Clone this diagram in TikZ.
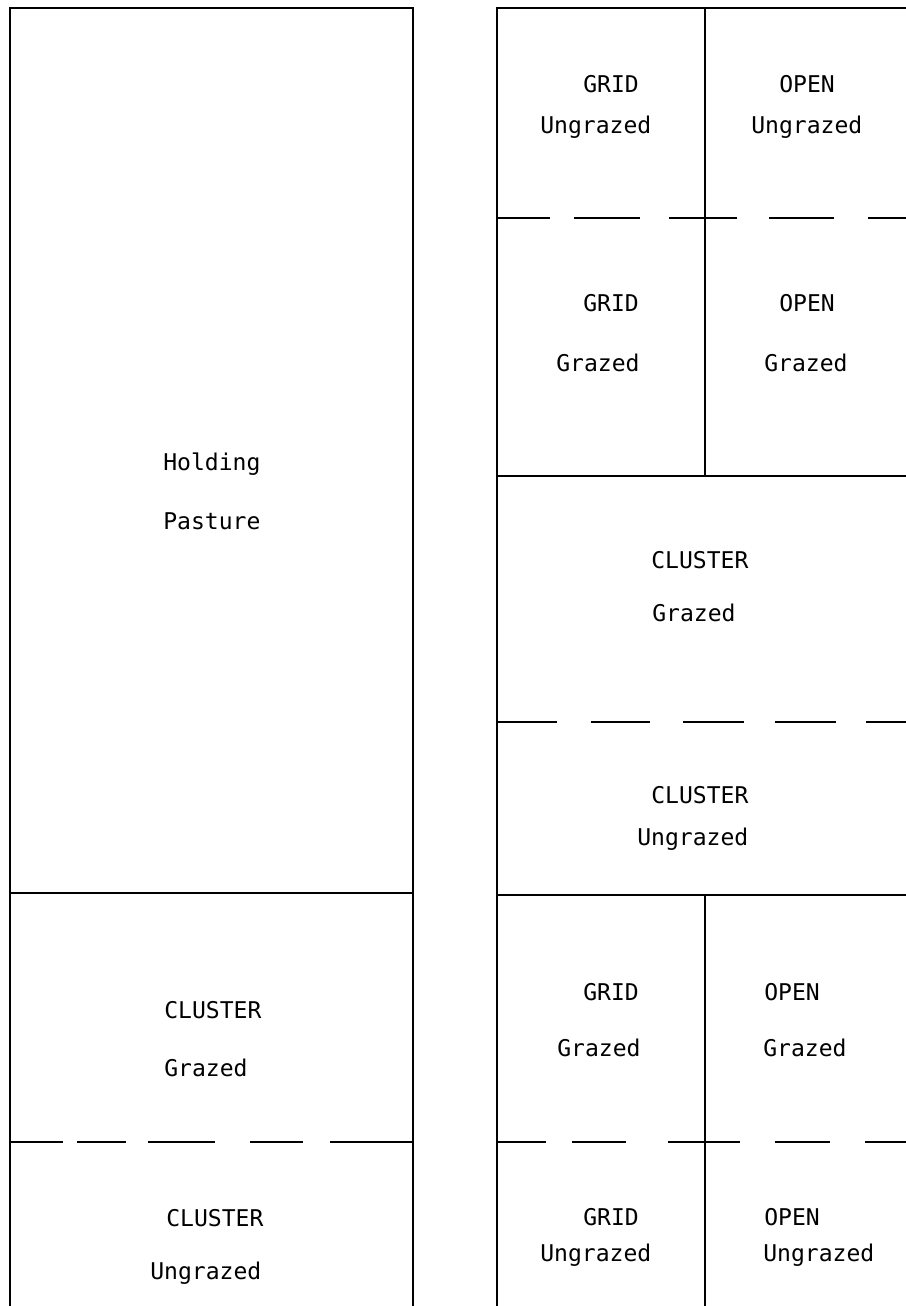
\documentclass[tikz,border=0pt]{standalone}
\usepackage{fontspec}
\setmonofont{DejaVu Sans Mono}
\usepackage{tikz}
\usetikzlibrary{positioning, calc}

\begin{document}
\begin{tikzpicture}[
      x=0.25mm, y=-0.25mm,
      wall/.style={line width=0.7mm, black},
      fence/.style={line width=0.7mm, black},
      plot/.style={font=\ttfamily\fontsize{16.4}{18}\selectfont, inner sep=0pt, anchor=west}
    ]
      \useasboundingbox (0,0) rectangle (906,1306);

      % outer walls
      \draw[wall] (10,1306) -- (10,8) -- (413,8) -- (413,1306);
      \draw[wall] (497,1306) -- (497,8) -- (906,8);

      % solid divisions
      \draw[wall] (10,893) -- (413,893);
      \draw[wall] (497,476) -- (906,476);
      \draw[wall] (497,895) -- (906,895);
      \draw[wall] (705,8) -- (705,476);
      \draw[wall] (705,895) -- (705,1306);

      % dashed divisions (hand drawn dashes)
      \foreach \a/\b in {10/63, 77/126, 148/215, 250/303, 330/413}
        \draw[fence] (\a,1142) -- (\b,1142);
      \foreach \a/\b in {497/550, 574/640, 669/737, 769/834, 868/906}
        \draw[fence] (\a,218) -- (\b,218);
      \foreach \a/\b in {497/557, 591/650, 683/744, 775/836, 866/906}
        \draw[fence] (\a,722) -- (\b,722);
      \foreach \a/\b in {497/546, 572/626, 668/740, 775/830, 865/906}
        \draw[fence] (\a,1142) -- (\b,1142);

      % left strip
      \node[plot] (hold) at (163,464) {Holding};
      \node[plot] (past) at (163,521) {Pasture};
      \node[plot] (lcg) at (164,1010) {CLUSTER};
      \node[plot] (lcg2) at (164,1068) {Grazed};
      \node[plot] (lcu) at (166,1218) {CLUSTER};
      \node[plot] (lcu2) at (150,1273) {Ungrazed};

      % right strip, top
      \node[plot] (gu) at (583,84) {GRID};
      \node[plot] (gu2) at (540,127) {Ungrazed};
      \node[plot] (ou) at (779,84) {OPEN};
      \node[plot] (ou2) at (751,127) {Ungrazed};
      \node[plot] (gg) at (583,303) {GRID};
      \node[plot] (gg2) at (556,363) {Grazed};
      \node[plot] (og) at (779,303) {OPEN};
      \node[plot] (og2) at (764,363) {Grazed};

      % right strip, middle
      \node[plot] (cg) at (651,560) {CLUSTER};
      \node[plot] (cg2) at (652,613) {Grazed};
      \node[plot] (cu) at (651,795) {CLUSTER};
      \node[plot] (cu2) at (637,839) {Ungrazed};

      % right strip, bottom
      \node[plot] (bgg) at (583,992) {GRID};
      \node[plot] (bgg2) at (557,1048) {Grazed};
      \node[plot] (bog) at (764,992) {OPEN};
      \node[plot] (bog2) at (763,1048) {Grazed};
      \node[plot] (bgu) at (583,1217) {GRID};
      \node[plot] (bgu2) at (540,1255) {Ungrazed};
      \node[plot] (bou) at (764,1217) {OPEN};
      \node[plot] (bou2) at (763,1255) {Ungrazed};
    \end{tikzpicture}
\end{document}
